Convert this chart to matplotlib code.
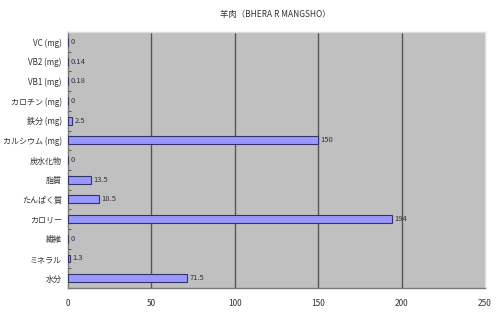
import matplotlib
matplotlib.use('Agg')
import matplotlib.pyplot as plt

plt.rcParams['font.family'] = ['Noto Sans CJK JP', 'DejaVu Sans']

# data (top to bottom as shown)
labels = ['VC (mg)', 'VB2 (mg)', 'VB1 (mg)', 'カロチン (mg)', '鉄分 (mg)',
          'カルシウム (mg)', '炭水化物', '脂質', 'たんぱく質', 'カロリー',
          '繊維', 'ミネラル', '水分']
values = [0, 0.14, 0.18, 0, 2.5, 150, 0, 13.5, 18.5, 194, 0, 1.3, 71.5]
value_text = ['0', '0.14', '0.18', '0', '2.5', '150', '0', '13.5', '18.5', '194', '0', '1.3', '71.5']
xticks = [0, 50, 100, 150, 200, 250]

fig = plt.figure(figsize=(5, 3.12), dpi=100)
fig.patch.set_facecolor('white')
ax = fig.add_axes([0.136, 0.077, 0.834, 0.82])
ax.set_facecolor('#c0c0c0')

n = len(labels)
ypos = list(range(n))[::-1]
ax.barh(ypos, values, height=0.4, color='#9999ff', edgecolor='#333366', linewidth=0.8, zorder=3)
for y, v, t in zip(ypos, values, value_text):
    ax.text(v + 1.5, y, t, fontsize=5.5, color='#333333', va='center', ha='left', zorder=4)

ax.set_xlim(0, 250)
ax.set_ylim(-0.5, n - 0.5)
ax.set_xticks(xticks)
ax.set_xticklabels([str(t) for t in xticks], fontsize=6, color='#333333')
ax.set_yticks(ypos)
ax.set_yticklabels(labels, fontsize=5.8, color='#333333')
ax.tick_params(axis='y', length=0, pad=4.5)
ax.tick_params(axis='x', length=0, pad=8)
# small ticks between categories on the y axis
ax.set_yticks([i + 0.5 for i in range(n - 1)], minor=True)
ax.tick_params(axis='y', which='minor', length=2.5, color='#444444', direction='in')

for x in xticks[1:-1]:
    ax.axvline(x, color='#555555', linewidth=1.0, zorder=2)

for s in ['top', 'right']:
    ax.spines[s].set_color('#dddddd')
    ax.spines[s].set_linewidth(1.0)
for s in ['left', 'bottom']:
    ax.spines[s].set_color('#777777')
    ax.spines[s].set_linewidth(1.0)

fig.text(0.55, 0.955, '羊肉（BHERA R MANGSHO）', fontsize=6, color='#333333',
         ha='center', va='center')

fig.savefig('out.png', dpi=100, facecolor='white')
